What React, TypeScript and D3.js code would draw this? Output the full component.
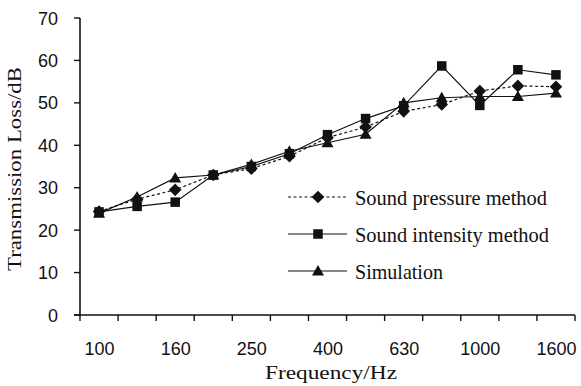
import React from "react";
import * as d3 from "d3";

const categories = ["100", "125", "160", "200", "250", "315", "400", "500", "630", "800", "1000", "1250", "1600"];
const tickLabels = ["100", "160", "250", "400", "630", "1000", "1600"];
const pressure = [24.4, 27.3, 29.5, 33.0, 34.5, 37.4, 41.8, 44.3, 48.0, 49.6, 52.8, 54.0, 53.8];
const intensity = [24.3, 25.6, 26.6, 33.0, 35.0, 38.0, 42.5, 46.3, 49.3, 58.7, 49.4, 57.8, 56.6];
const simulation = [24.0, 27.8, 32.3, 33.0, 35.5, 38.6, 40.6, 42.6, 50.0, 51.2, 51.5, 51.5, 52.3];
const yTicks = [0, 10, 20, 30, 40, 50, 60, 70];

const W = 581, H = 386;
const left = 80, right = 575, top = 18, bottom = 315;
const serif = "'Liberation Serif', 'Times New Roman', serif";
const sans = "'Liberation Sans', Arial, sans-serif";
const ink = "#111";

function Marker({ kind, x, y }: { kind: string; x: number; y: number }) {
  if (kind === "diamond") {
    const r = 6.3;
    return <path d={`M${x},${y - r}L${x + r},${y}L${x},${y + r}L${x - r},${y}Z`} fill={ink} />;
  }
  if (kind === "square") {
    const s = 9.5;
    return <rect x={x - s / 2} y={y - s / 2} width={s} height={s} fill={ink} />;
  }
  const r = 6;
  return <path d={`M${x},${y - 6}L${x + r},${y + 4.5}L${x - r},${y + 4.5}Z`} fill={ink} />;
}

export default function App() {
  const x = d3.scaleBand<string>().domain(categories).range([left, right]);
  const y = d3.scaleLinear().domain([0, 70]).range([bottom, top]);
  const cx = (c: string) => (x(c) as number) + x.bandwidth() / 2;

  const series = [
    { name: "Simulation", values: simulation, kind: "triangle", dash: "" },
    { name: "Sound intensity method", values: intensity, kind: "square", dash: "" },
    { name: "Sound pressure method", values: pressure, kind: "diamond", dash: "3,2.5" },
  ];
  const line = d3.line<number>().x((_, i) => cx(categories[i])).y((v) => y(v));
  const legend = [
    { name: "Sound pressure method", kind: "diamond", dash: "3,2.5", yy: 197, len: 192 },
    { name: "Sound intensity method", kind: "square", dash: "", yy: 234, len: 194 },
    { name: "Simulation", kind: "triangle", dash: "", yy: 271, len: 88 },
  ];
  const boundaries = d3.range(categories.length + 1).map((i) => left + i * x.step());

  return (
    <div style={{ position: "absolute", left: 0, top: 0, width: W, height: H, background: "#fff" }}>
      <svg width={W} height={H}>
        <rect width={W} height={H} fill="#fff" />
        {/* y axis */}
        <line x1={left} x2={left} y1={top} y2={bottom} stroke={ink} strokeWidth={1.6} />
        {yTicks.map((t) => (
          <g key={t}>
            <line x1={left - 6} x2={left} y1={y(t)} y2={y(t)} stroke={ink} strokeWidth={1.4} />
            <text x={58} y={y(t) + 6.5} textAnchor="end" fontFamily={sans} fontSize={18} fill={ink}>
              {t}
            </text>
          </g>
        ))}
        {/* x axis */}
        <line x1={left - 6} x2={right} y1={bottom} y2={bottom} stroke={ink} strokeWidth={1.6} />
        {boundaries.map((b, i) => (
          <line key={i} x1={b} x2={b} y1={bottom} y2={bottom + 6} stroke={ink} strokeWidth={1.4} />
        ))}
        {categories.map((c) =>
          tickLabels.includes(c) ? (
            <text key={c} x={cx(c) + 0.5} y={355} textAnchor="middle" fontFamily={sans} fontSize={18} fill={ink}>
              {c}
            </text>
          ) : null
        )}
        <text x={265} y={379} textLength={132} lengthAdjust="spacingAndGlyphs" fontFamily={serif} fontSize={19} fill={ink}>
          Frequency/Hz
        </text>
        <text
          transform={`translate(21,271) rotate(-90)`}
          textLength={204}
          lengthAdjust="spacingAndGlyphs"
          fontFamily={serif}
          fontSize={19}
          fill={ink}
        >
          Transmission Loss/dB
        </text>
        {/* series */}
        {series.map((s) => (
          <g key={s.name}>
            <path d={line(s.values) || ""} fill="none" stroke={ink} strokeWidth={1.2} strokeDasharray={s.dash || undefined} />
            {s.values.map((v, i) => (
              <Marker key={i} kind={s.kind} x={cx(categories[i])} y={y(v)} />
            ))}
          </g>
        ))}
        {/* legend */}
        {legend.map((l) => (
          <g key={l.name}>
            <line x1={288} x2={347} y1={l.yy} y2={l.yy} stroke={ink} strokeWidth={1.2} strokeDasharray={l.dash || undefined} />
            <Marker kind={l.kind} x={318} y={l.yy} />
            <text
              x={355}
              y={l.yy + 8}
              textLength={l.len}
              lengthAdjust="spacingAndGlyphs"
              fontFamily={serif}
              fontSize={21}
              fill={ink}
            >
              {l.name}
            </text>
          </g>
        ))}
      </svg>
    </div>
  );
}
